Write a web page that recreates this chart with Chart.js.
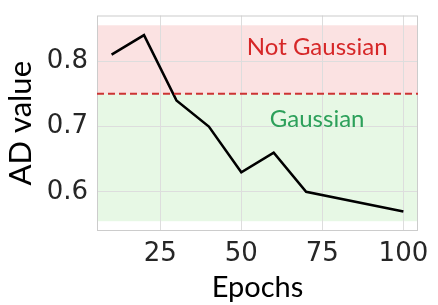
<!DOCTYPE html>
<html>
<head>
<meta charset="utf-8">
<script src="https://cdn.jsdelivr.net/npm/chart.js@4"></script>
<style>
  html, body { margin: 0; padding: 0; background: #fff; }
  #wrap { width: 438px; height: 305px; }
</style>
</head>
<body>
<div id="wrap"><canvas id="ad"></canvas></div>
<script>
// data
const epochs = [10, 20, 30, 40, 50, 60, 70, 100];
const adValues = [0.81, 0.84, 0.74, 0.70, 0.63, 0.66, 0.60, 0.57];
const xTicks = [25, 50, 75, 100];
const yTicks = [0.6, 0.7, 0.8];
const threshold = 0.75;
const notGaussianSpan = [0.75, 0.855];
const gaussianSpan = [0.555, 0.75];
const regionLabels = ["Not Gaussian", "Gaussian"];
const labelPos = [[73.4, 0.821], [73.4, 0.711]];

const handFont = "Lato, 'Open Sans', sans-serif";

const regions = {
  id: "regions",
  beforeDraw(chart) {
    const c = chart.ctx, a = chart.chartArea, y = chart.scales.y;
    c.save();
    c.fillStyle = "#fff";
    c.fillRect(0, 0, chart.width, chart.height);
    c.fillStyle = "rgba(235, 110, 110, 0.2)";
    let t = y.getPixelForValue(notGaussianSpan[1]), b = y.getPixelForValue(notGaussianSpan[0]);
    c.fillRect(a.left, t, a.right - a.left, b - t);
    c.fillStyle = "rgba(120, 215, 110, 0.18)";
    t = y.getPixelForValue(gaussianSpan[1]); b = y.getPixelForValue(gaussianSpan[0]);
    c.fillRect(a.left, t, a.right - a.left, b - t);
    c.restore();
  },
  afterDatasetsDraw(chart) {
    const c = chart.ctx, a = chart.chartArea, x = chart.scales.x, y = chart.scales.y;
    c.save();
    c.strokeStyle = "#cccccc";
    c.lineWidth = 1;
    c.strokeRect(a.left + 0.5, a.top + 0.5, a.right - a.left - 1, a.bottom - a.top - 1);
    const ty = y.getPixelForValue(threshold);
    c.strokeStyle = "#cc3333";
    c.lineWidth = 2;
    c.setLineDash([7, 4]);
    c.beginPath();
    c.moveTo(a.left, ty);
    c.lineTo(a.right, ty);
    c.stroke();
    c.setLineDash([]);
    c.font = "24px " + handFont;
    c.textAlign = "center";
    c.textBaseline = "middle";
    c.fillStyle = "#d62728";
    c.fillText(regionLabels[0], x.getPixelForValue(labelPos[0][0]), y.getPixelForValue(labelPos[0][1]));
    c.fillStyle = "#2ca05a";
    c.fillText(regionLabels[1], x.getPixelForValue(labelPos[1][0]), y.getPixelForValue(labelPos[1][1]));
    c.restore();
  }
};

new Chart(document.getElementById("ad"), {
  type: "line",
  data: {
    datasets: [{
      data: epochs.map((e, i) => ({ x: e, y: adValues[i] })),
      borderColor: "#000",
      borderWidth: 2.5,
      pointRadius: 0,
      tension: 0,
      fill: false
    }]
  },
  options: {
    responsive: true,
    maintainAspectRatio: false,
    animation: false,
    layout: { padding: { top: 14, right: 20, left: 0, bottom: 0 } },
    plugins: { legend: { display: false }, tooltip: { enabled: false } },
    scales: {
      x: {
        type: "linear",
        min: 5.5,
        max: 104.5,
        afterBuildTicks: (s) => { s.ticks = xTicks.map(v => ({ value: v })); },
        afterFit: (s) => { s.height = 74; },
        grid: { color: "#dddddd", drawTicks: false },
        border: { display: false },
        ticks: { font: { family: "DejaVu Sans", size: 26 }, color: "#262626", padding: 8 },
        title: { display: true, text: "Epochs", font: { family: handFont, size: 29 }, color: "#000", padding: { top: 0, bottom: 0 } }
      },
      y: {
        min: 0.54,
        max: 0.87,
        afterBuildTicks: (s) => { s.ticks = yTicks.map(v => ({ value: v })); },
        afterFit: (s) => { s.width = 97; },
        grid: { color: "#dddddd", drawTicks: false },
        border: { display: false },
        ticks: { font: { family: "DejaVu Sans", size: 26, lineHeight: 0.5 }, color: "#262626", padding: 9, callback: (v) => v.toFixed(1) },
        title: { display: true, text: "AD value", font: { family: handFont, size: 31 }, color: "#000", padding: { top: 2, bottom: 4 } }
      }
    }
  },
  plugins: [regions]
});
</script>
</body>
</html>
